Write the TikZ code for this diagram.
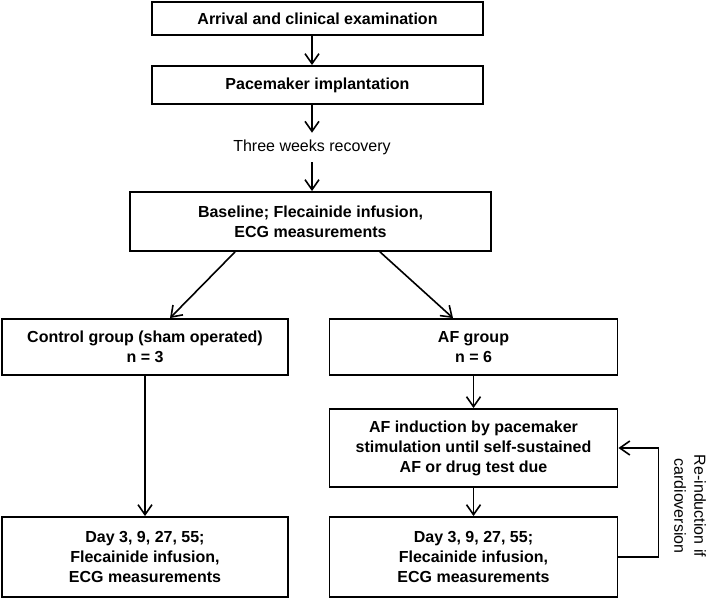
\documentclass[tikz,border=0pt]{standalone}
\usepackage{fontspec}
\setmainfont{Liberation Sans}
\usetikzlibrary{arrows.meta,calc}
\begin{document}
\begin{tikzpicture}[x=0.75pt,y=-0.75pt,
  box/.style={draw, line width=1.4pt, font=\bfseries\fontsize{12}{15}\selectfont, align=center, inner sep=0pt},
  plain/.style={font=\fontsize{12}{15}\selectfont, align=center, inner sep=0pt},
  arr/.style={line width=1.2pt, -{Straight Barb[length=7.5pt,width=10.5pt,line width=1.2pt]}}]
\useasboundingbox (0,0) rectangle (709,598);
\node[box, minimum width=248.25pt, minimum height=24.75pt] (arrive) at (317.5,18.5) {Arrival and clinical examination};
\node[box, minimum width=248.25pt, minimum height=28.5pt] (pace) at (317.5,85) {Pacemaker implantation};
\node[plain, minimum height=21.75pt] (recov) at (312,147.5) {Three weeks recovery};
\node[box, minimum width=270.75pt, minimum height=44.25pt] (base) at (310.5,221.5) {Baseline; Flecainide infusion,\\ECG measurements};
\node[box, minimum width=214.5pt, minimum height=42pt] (ctrl) at (145,347) {Control group (sham operated)\\n = 3};
\node[box, minimum width=216pt, minimum height=42pt] (af) at (473.5,347) {AF group\\n = 6};
\node[box, minimum width=216pt, minimum height=58.5pt] (ind) at (473.5,448) {AF induction by pacemaker\\stimulation until self-sustained\\AF or drug test due};
\node[box, minimum width=214.5pt, minimum height=60pt] (dayL) at (145,557) {Day 3, 9, 27, 55;\\Flecainide infusion,\\ECG measurements};
\node[box, minimum width=216pt, minimum height=60pt] (dayR) at (473.5,557) {Day 3, 9, 27, 55;\\Flecainide infusion,\\ECG measurements};
\node[plain, rotate=-90] (lbl) at (690,506) {Re-induction if\\cardioversion};
\draw[arr] (arrive.south -| recov) -- (pace.north -| recov);
\draw[arr] (pace.south -| recov) -- (recov);
\draw[arr] (recov) -- (recov |- base.north);
\draw[arr] ($(base.south)+(-75.5,0)$) -- ($(ctrl.north)+(25,0)$);
\draw[arr] ($(base.south)+(69.5,0)$) -- ($(af.north)+(-20.5,0)$);
\draw[arr] (ctrl) -- (dayL);
\draw[arr] (af) -- (ind);
\draw[arr] (ind) -- (dayR);
\draw[arr] (dayR.east) -- ++(40,0) |- (ind.east);
\end{tikzpicture}
\end{document}
